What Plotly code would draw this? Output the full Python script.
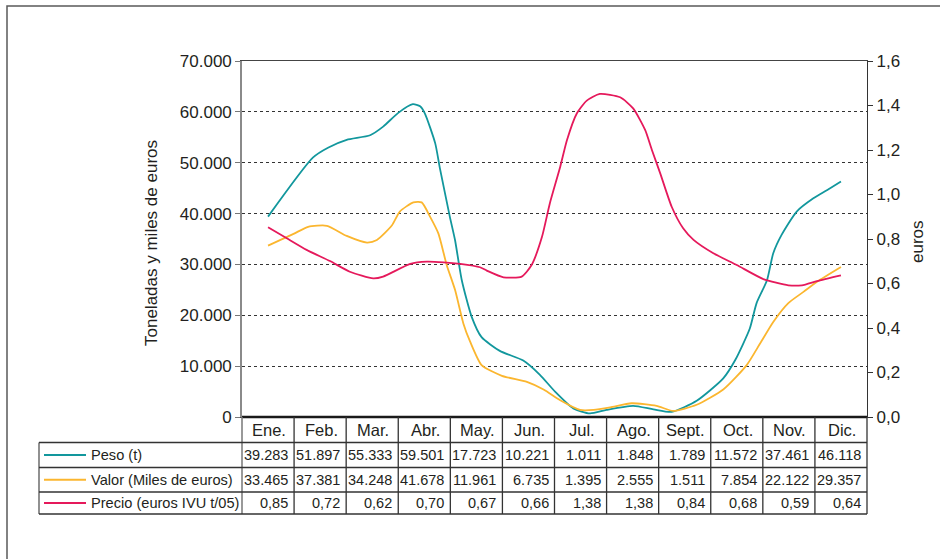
import plotly.graph_objects as go

# ---------------- data ----------------
months = ["Ene.", "Feb.", "Mar.", "Abr.", "May.", "Jun.", "Jul.", "Ago.", "Sept.", "Oct.", "Nov.", "Dic."]
peso = [39283, 51897, 55333, 59501, 17723, 10221, 1011, 1848, 1789, 11572, 37461, 46118]
valor = [33465, 37381, 34248, 41678, 11961, 6735, 1395, 2555, 1511, 7854, 22122, 29357]
precio = [0.85, 0.72, 0.62, 0.70, 0.67, 0.66, 1.38, 1.38, 0.84, 0.68, 0.59, 0.64]

# curves as drawn in the chart (x = month index)
peso_curve_x = [0, 0.86, 1.16, 1.51, 1.96, 2.21, 2.50, 2.78, 2.92, 3.01, 3.21, 3.30, 3.49, 3.59, 3.72, 3.91,
                4.10, 4.45, 4.90, 5.22, 5.51, 5.86, 6.18, 6.50, 7.01, 7.40, 7.75, 8.23, 8.74, 8.97, 9.25,
                9.38, 9.58, 9.70, 9.86, 10.15, 10.47, 10.73, 11.0]
peso_curve_k = [39.4, 51.0, 53.0, 54.5, 55.4, 57.1, 59.8, 61.5, 61.1, 59.7, 53.8, 48.9, 39.4, 34.8, 26.9, 19.7,
                15.7, 13.0, 11.1, 8.3, 5.0, 1.7, 0.7, 1.4, 2.2, 1.5, 1.0, 3.2, 7.6, 11.2, 17.4,
                22.4, 26.9, 32.2, 35.8, 40.4, 43.0, 44.6, 46.3]

valor_curve_x = [0, 0.49, 0.77, 1.13, 1.51, 1.90, 2.09, 2.38, 2.53, 2.79, 2.95, 3.11, 3.27, 3.43, 3.59, 3.75,
                 3.88, 4.10, 4.49, 4.97, 5.29, 5.61, 5.99, 6.25, 6.57, 6.98, 7.46, 7.78, 8.23, 8.74, 9.19,
                 9.45, 9.70, 9.99, 10.28, 10.54, 11.0]
valor_curve_k = [33.7, 36.0, 37.4, 37.6, 35.6, 34.3, 34.8, 37.7, 40.4, 42.2, 42.2, 39.4, 36.1, 29.9, 25.0, 18.4,
                 14.8, 10.2, 8.1, 6.9, 5.4, 3.3, 1.4, 1.4, 1.9, 2.7, 2.2, 1.2, 2.4, 5.4, 10.2,
                 14.5, 18.7, 22.4, 24.6, 26.6, 29.5]

precio_curve_x = [0, 0.36, 0.74, 1.19, 1.57, 2.02, 2.21, 2.73, 3.05, 3.37, 3.69, 4.07, 4.20, 4.52, 4.87, 5.06,
                  5.26, 5.41, 5.61, 5.74, 5.93, 6.12, 6.37, 6.76, 7.01, 7.24, 7.37, 7.53, 7.75, 7.97, 8.17,
                  8.55, 9.00, 9.51, 9.99, 10.25, 10.54, 11.0]
precio_curve = [0.853, 0.803, 0.751, 0.701, 0.653, 0.623, 0.631, 0.688, 0.698, 0.695, 0.688, 0.673, 0.658, 0.628,
                0.631, 0.683, 0.81, 0.96, 1.125, 1.245, 1.365, 1.422, 1.452, 1.437, 1.387, 1.29, 1.2, 1.095,
                0.945, 0.848, 0.796, 0.736, 0.683, 0.62, 0.592, 0.592, 0.611, 0.637]

left_ticks = [0, 10000, 20000, 30000, 40000, 50000, 60000, 70000]
left_ticktext = ["0", "10.000", "20.000", "30.000", "40.000", "50.000", "60.000", "70.000"]
right_ticks = [0, 0.2, 0.4, 0.6, 0.8, 1.0, 1.2, 1.4, 1.6]
right_ticktext = ["0,0", "0,2", "0,4", "0,6", "0,8", "1,0", "1,2", "1,4", "1,6"]

series_names = ["Peso (t)", "Valor (Miles de euros)", "Precio (euros IVU t/05)"]
colors = ["#12979d", "#fbb62f", "#e5195b"]

FONT = "Liberation Sans, Arial, Helvetica, sans-serif"
TXT = "#231f20"

# ---------------- figure ----------------
W, H = 940, 559
ML, MR, MT, MB = 242, 73, 61, 142
PW, PH = W - ML - MR, H - MT - MB


def px_x(px):
    return (px - ML) / PW


def px_y(py):
    return (H - MB - py) / PH


fig = go.Figure()
fig.add_trace(go.Scatter(x=peso_curve_x, y=[v * 1000 for v in peso_curve_k], mode="lines",
                         line=dict(color=colors[0], width=1.8, shape="spline", smoothing=0.6),
                         name=series_names[0], yaxis="y"))
fig.add_trace(go.Scatter(x=valor_curve_x, y=[v * 1000 for v in valor_curve_k], mode="lines",
                         line=dict(color=colors[1], width=1.8, shape="spline", smoothing=0.6),
                         name=series_names[1], yaxis="y"))
fig.add_trace(go.Scatter(x=precio_curve_x, y=precio_curve, mode="lines",
                         line=dict(color=colors[2], width=1.8, shape="spline", smoothing=0.6),
                         name=series_names[2], yaxis="y2"))

shapes = []
# outer frame (cut off on the right and bottom)
shapes.append(dict(type="rect", xref="paper", yref="paper", x0=px_x(7), y0=px_y(575), x1=px_x(960),
                   y1=px_y(6), line=dict(color="#5a5a5a", width=1.5), layer="below"))
# thick baseline
shapes.append(dict(type="line", xref="paper", yref="paper", x0=0, y0=0, x1=1, y1=0,
                   line=dict(color="#1a1a1a", width=2.6)))

# table grid
row_edges_px = [417, 442.5, 467.5, 492, 514]
row_edges = [px_y(p) for p in row_edges_px]
table_left = px_x(39)
ncol = len(months)
for k in range(1, ncol + 1):
    shapes.append(dict(type="line", xref="paper", yref="paper", x0=k / ncol, x1=k / ncol,
                       y0=row_edges[0], y1=row_edges[-1], line=dict(color="#333", width=1.3)))
shapes.append(dict(type="line", xref="paper", yref="paper", x0=0, x1=0,
                   y0=row_edges[0], y1=row_edges[-1], line=dict(color="#777", width=1.5)))
shapes.append(dict(type="line", xref="paper", yref="paper", x0=table_left, x1=table_left,
                   y0=row_edges[1], y1=row_edges[-1], line=dict(color="#555", width=1.3)))
for r in row_edges[1:]:
    shapes.append(dict(type="line", xref="paper", yref="paper", x0=table_left, x1=1,
                       y0=r, y1=r, line=dict(color="#333", width=1.3)))

annotations = []
# header
hdr_y = (row_edges[0] + row_edges[1]) / 2
for i, m in enumerate(months):
    annotations.append(dict(x=(i + 0.52) / ncol, y=hdr_y, xref="paper", yref="paper", text=m,
                            showarrow=False, xanchor="center", yanchor="middle",
                            font=dict(family=FONT, size=16.5, color=TXT)))


def fmt_int(v):
    return f"{v:,}".replace(",", ".")


def fmt_dec(v):
    return f"{v:.2f}".replace(".", ",")


rows = [[fmt_int(v) for v in peso], [fmt_int(v) for v in valor], [fmt_dec(v) for v in precio]]
for r, vals in enumerate(rows):
    yc = (row_edges[r + 1] + row_edges[r + 2]) / 2
    # legend swatch + label
    shapes.append(dict(type="line", xref="paper", yref="paper", x0=px_x(44), x1=px_x(86), y0=yc, y1=yc,
                       line=dict(color=colors[r], width=2)))
    annotations.append(dict(x=px_x(89), y=yc, xref="paper", yref="paper", text=series_names[r],
                            showarrow=False, xanchor="left", yanchor="middle",
                            font=dict(family=FONT, size=14.6, color=TXT)))
    for i, s in enumerate(vals):
        annotations.append(dict(x=(i + 1) / ncol - 4 / PW, y=yc, xref="paper", yref="paper", text=s,
                                showarrow=False, xanchor="right", yanchor="middle",
                                font=dict(family=FONT, size=14.5, color=TXT)))

# axis titles
annotations.append(dict(x=px_x(151), y=px_y(243), xref="paper", yref="paper",
                        text="Toneladas y miles de euros", textangle=-90, showarrow=False,
                        xanchor="center", yanchor="middle", font=dict(family=FONT, size=17, color=TXT)))
annotations.append(dict(x=px_x(917), y=px_y(242), xref="paper", yref="paper",
                        text="euros", textangle=-90, showarrow=False,
                        xanchor="center", yanchor="middle", font=dict(family=FONT, size=17, color=TXT)))

fig.update_layout(
    width=W, height=H,
    margin=dict(l=ML, r=MR, t=MT, b=MB, autoexpand=False),
    paper_bgcolor="white", plot_bgcolor="white",
    showlegend=False,
    font=dict(family=FONT, color=TXT),
    xaxis=dict(range=[-0.5, 11.5], showgrid=False, zeroline=False, showticklabels=False, ticks="",
               showline=True, mirror=True, linecolor="#444", linewidth=1, fixedrange=True),
    yaxis=dict(range=[0, 70000], tickvals=left_ticks, ticktext=left_ticktext, showgrid=True,
               gridcolor="#333", gridwidth=1, griddash="3px,3px", zeroline=False,
               showline=True, linecolor="#8a8a8a", linewidth=1.6, ticks="outside", ticklen=5,
               tickcolor="#777", tickwidth=1.2, tickfont=dict(family=FONT, size=17, color=TXT)),
    yaxis2=dict(range=[0, 1.6], tickvals=right_ticks, ticktext=right_ticktext, overlaying="y",
                side="right", showgrid=False, zeroline=False, showline=True, linecolor="#333",
                linewidth=1.3, ticks="outside", ticklen=5, tickcolor="#333", tickwidth=1.2,
                tickfont=dict(family=FONT, size=17, color=TXT)),
    shapes=shapes,
    annotations=annotations,
)

fig.write_html("out.html", config={"displayModeBar": False},
               post_script="document.body.style.margin='0';document.body.style.overflow='hidden';")
